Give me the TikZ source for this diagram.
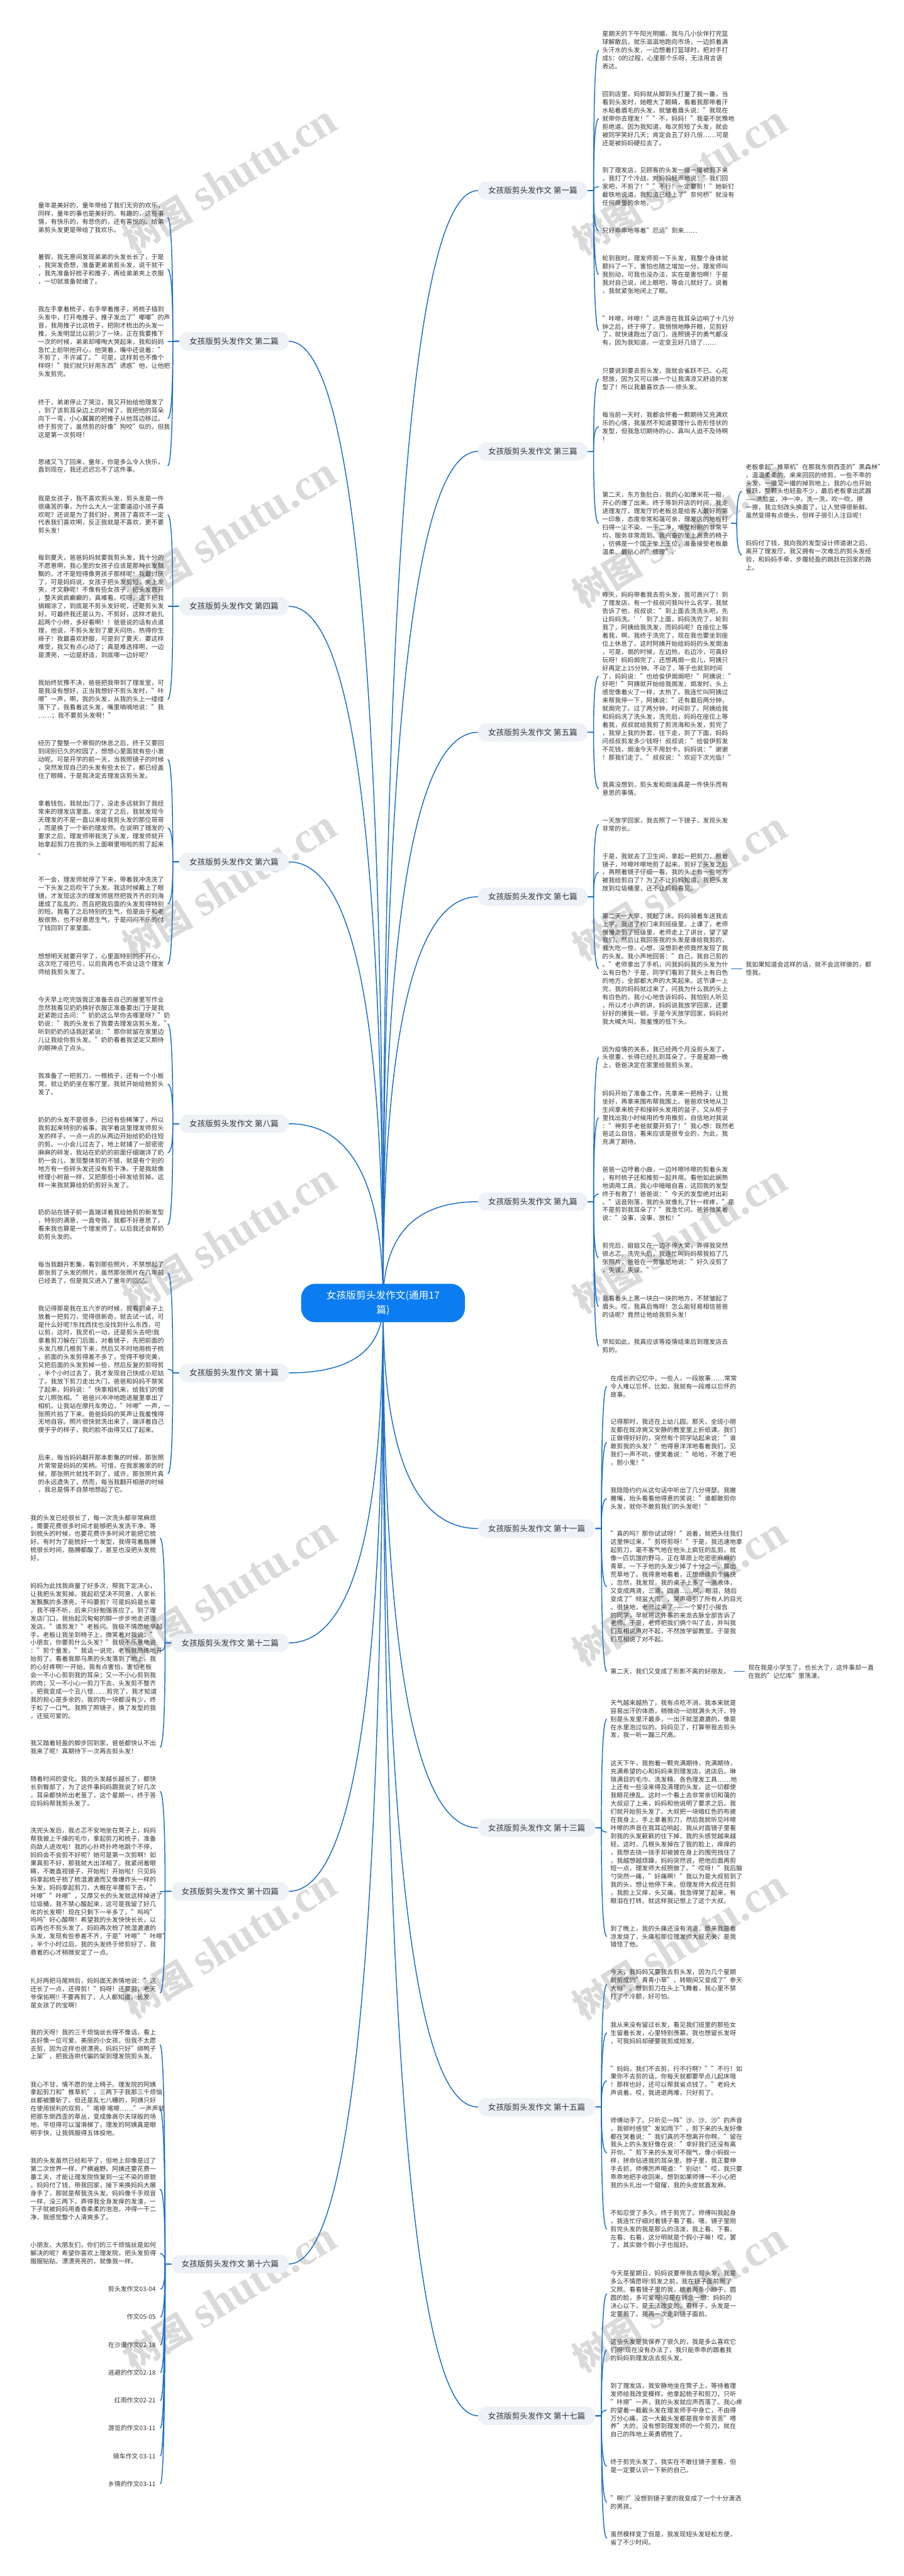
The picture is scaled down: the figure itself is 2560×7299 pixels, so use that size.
\documentclass[tikz,border=0pt]{standalone}
\usepackage{fontspec}
\setmainfont{Noto Sans CJK SC}
\newfontfamily\wmlatin{Liberation Serif}
\usetikzlibrary{calc}
\pgfdeclarelayer{bg}
\pgfsetlayers{bg,main}
\definecolor{linkblue}{HTML}{1A6FC7}
\definecolor{ctrblue}{HTML}{0B7DF0}
\definecolor{brfill}{HTML}{EEF1F6}
\definecolor{txt}{HTML}{333333}
\definecolor{wm}{HTML}{DADADA}
\newcommand\leaffont{\fontsize{17.8pt}{23pt}\selectfont}
\newcommand\brfont{\fontsize{22.5pt}{27pt}\selectfont}
\newcommand\ctrfont{\fontsize{28pt}{40pt}\selectfont}
\newcommand\wmtext{{\bfseries\fontsize{100pt}{100pt}\selectfont 树图}\hspace{30pt}{\wmlatin\bfseries\fontsize{125pt}{125pt}\selectfont shutu.cn}}
\tikzset{
 conn/.style={draw=linkblue, line width=2.6pt},
 leaf/.style={font=\leaffont, text=txt, align=left, inner sep=0pt, anchor=west},
 leafE/.style={font=\leaffont, text=txt, align=right, inner sep=0pt, anchor=east},
 branch/.style={fill=brfill, rounded corners=24pt, minimum height=52pt, font=\brfont, text=txt, inner sep=0pt},
 brA/.style={branch, minimum width=310pt},
 brB/.style={branch, minimum width=332pt},
 ctrnode/.style={fill=ctrblue, text=white, rounded corners=40pt, minimum width=464pt, minimum height=109pt, font=\ctrfont, align=center, inner sep=0pt},
 wmark/.style={text=wm, rotate=31.5, inner sep=0pt}
}
\newcommand{\mlinkR}[1]{\draw[conn] (ctr.center) let \p1=(ctr.center), \p2=(#1.west) in .. controls (\x1,{\y1+0.6667*(\y2-(\y1))}) and ({\x2+0.6667*(\x1-(\x2))},\y2) .. (\p2);}
\newcommand{\mlinkL}[1]{\draw[conn] (ctr.center) let \p1=(ctr.center), \p2=(#1.east) in .. controls (\x1,{\y1+0.6667*(\y2-(\y1))}) and ({\x2+0.6667*(\x1-(\x2))},\y2) .. (\p2);}
\newcommand{\rlink}[2]{\draw[conn] (#1.east) -- ([xshift=17pt]#1.east) let \p1=([xshift=17pt]#1.east), \p2=([xshift=-10pt]#2.west) in .. controls (\x1,{\y1+0.6667*(\y2-(\y1))}) and ({\x2+0.6667*(\x1-(\x2))},\y2) .. (\p2);}
\newcommand{\llink}[2]{\draw[conn] (#1.west) -- ([xshift=-18pt]#1.west) let \p1=([xshift=-18pt]#1.west), \p2=([xshift=367pt]#2.west) in .. controls (\x1,{\y1+0.6667*(\y2-(\y1))}) and ({\x2+0.6667*(\x1-(\x2))},\y2) .. (\p2);}
\newcommand{\llinkE}[2]{\draw[conn] (#1.west) -- ([xshift=-18pt]#1.west) let \p1=([xshift=-18pt]#1.west), \p2=([xshift=13pt]#2.east) in .. controls (\x1,{\y1+0.6667*(\y2-(\y1))}) and ({\x2+0.6667*(\x1-(\x2))},\y2) .. (\p2);}
\newcommand{\tlink}[2]{\draw[conn] ($(#2.west |- #1.west)+(-41,0)$) -- ($(#2.west |- #1.west)+(-25,0)$) let \p1=($(#2.west |- #1.west)+(-25,0)$), \p2=([xshift=-10pt]#2.west) in .. controls (\x1,{\y1+0.6667*(\y2-(\y1))}) and ({\x2+0.6667*(\x1-(\x2))},\y2) .. (\p2);}
\begin{document}
\begin{tikzpicture}[x=1pt,y=-1pt]
\begin{pgfonlayer}{bg}
\fill[white] (0,0) rectangle (2560,7299);
\end{pgfonlayer}
\useasboundingbox (0,0) rectangle (2560,7299);

% centre
\node[ctrnode] (ctr) at (1085,3692) {女孩版剪头发作文(通用17\\篇)};

% branch nodes
\node[brA, anchor=west] (b1) at (1354,540) {女孩版剪头发作文 第一篇};
\node[brA, anchor=east] (b2) at (818,967) {女孩版剪头发作文 第二篇};
\node[brA, anchor=west] (b3) at (1354,1279) {女孩版剪头发作文 第三篇};
\node[brA, anchor=east] (b4) at (818,1718) {女孩版剪头发作文 第四篇};
\node[brA, anchor=west] (b5) at (1354,2075) {女孩版剪头发作文 第五篇};
\node[brA, anchor=east] (b6) at (818,2442) {女孩版剪头发作文 第六篇};
\node[brA, anchor=west] (b7) at (1354,2541) {女孩版剪头发作文 第七篇};
\node[brA, anchor=east] (b8) at (818,3184) {女孩版剪头发作文 第八篇};
\node[brA, anchor=west] (b9) at (1354,3405) {女孩版剪头发作文 第九篇};
\node[brA, anchor=east] (b10) at (818,3890) {女孩版剪头发作文 第十篇};
\node[brB, anchor=west] (b11) at (1354,4331) {女孩版剪头发作文 第十一篇};
\node[brB, anchor=east] (b12) at (818,4655) {女孩版剪头发作文 第十二篇};
\node[brB, anchor=west] (b13) at (1354,5179) {女孩版剪头发作文 第十三篇};
\node[brB, anchor=east] (b14) at (818,5359) {女孩版剪头发作文 第十四篇};
\node[brB, anchor=west] (b15) at (1354,5970) {女孩版剪头发作文 第十五篇};
\node[brB, anchor=east] (b16) at (818,6415) {女孩版剪头发作文 第十六篇};
\node[brB, anchor=west] (b17) at (1354,6845) {女孩版剪头发作文 第十七篇};

% ---------- right leaves ----------
\node[leaf] (r1a) at (1706,142) {星期天的下午阳光明媚，我与几小伙伴打完篮\\球解散后，就乐滋滋地跑向市场，一边抓着满\\头汗水的头发，一边想着打篮球时，把对手打\\成5：0的过程，心里那个乐呀，无法用言语\\表达。};
\node[leaf] (r1b) at (1706,336) {回到店里，妈妈就从脚到头打量了我一番，当\\看到头发时，她瞪大了眼睛，看着我那带着汗\\水粘着眉毛的头发，就皱着眉头说："我现在\\就带你去理发！""不，妈妈！"我毫不犹豫地\\拒绝道。因为我知道，每次剪短了头发，就会\\被同学笑好几天；肯定会丑了好几倍……可是\\还是被妈妈硬拉去了。};
\node[leaf] (r1c) at (1706,529) {到了理发店，见顾客的头发一撮一撮被剪下来\\，我打了个冷战，对妈妈轻声地说："我们回\\家吧，不剪了！""不行！一定要剪！"她斩钉\\截铁地说道。我知道已经上了"奈何桥"就没有\\任何商量的余地，};
\node[leaf] (r1d) at (1706,654) {只好乖乖地等着"厄运"到来……};
\node[leaf] (r1e) at (1706,778) {轮到我时，理发师剪一下头发，我整个身体就\\颤抖了一下，害怕也随之增加一分。理发师叫\\我别动，可我也没办法，实在是害怕啊！于是\\我对自己说，闭上眼吧，等会儿就好了。说着\\，我就紧张地闭上了眼。};
\node[leaf] (r1f) at (1706,937) {"咔嚓，咔嚓！"这声音在我耳朵边响了十几分\\钟之后，终于停了，我悄悄地睁开眼，见剪好\\了，就快速跑出了店门，连照镜子的勇气都没\\有，因为我知道，一定变丑好几倍了……};

\node[leaf] (r3a) at (1706,1074) {只要说到要去剪头发，我就会雀跃不已、心花\\怒放，因为又可以换一个让我清凉又舒适的发\\型了！所以我最喜欢去——修头发。};
\node[leaf] (r3b) at (1706,1209) {每当前一天时，我都会怀着一颗期待又充满欢\\乐的心情，我虽然不知道要理什么奇形怪状的\\发型，但我急切期待的心，真叫人迫不及待啊\\！};
\node[leaf] (r3c) at (1706,1483) {第二天，东方鱼肚白，我的心如爆米花一般，\\开心的爆了出来。终于等到开店的时间，我走\\进理发厅，理发厅的老板总是给客人最好的第\\一印象，态度非常和蔼可亲，理发店的地板打\\扫得一尘不染、一干二净，墙壁粉刷的非常平\\均，服务非常周到。我兴奋的坐上高贵的椅子\\，彷佛是一个国王坐上王位，准备接受老板最\\温柔、最贴心的"修理"。};
\node[leaf] (r3c1) at (2112,1392) {老板拿起"推草机"在那我东倒西歪的"黑森林"\\，温温柔柔的、来来回回的修剪，一些不乖的\\头发，一撮又一撮的掉到地上，我的心也开始\\雀跃，整颗头也轻盈不少，最后老板拿出武器\\——洗脸盆，冲一冲，洗一洗，吹一吹，擦\\一擦，我立刻改头换面了，让人觉得很新鲜。\\虽然变得有点傻头，但样子很引人注目呢！};
\node[leaf] (r3c2) at (2112,1573) {妈妈付了钱，我向我的发型设计师道谢之后，\\离开了理发厅。我又拥有一次难忘的剪头发经\\验，和妈妈手牵，步履轻盈的跳跃在回家的路\\上。};

\node[leaf] (r5a) at (1706,1916) {昨天，妈妈带着我去剪头发，我可高兴了！到\\了理发店，有一个叔叔问我叫什么名字，我就\\告诉了他，叔叔说："到上面去洗洗头吧，先\\让妈妈洗。’’到了上面，妈妈洗完了，轮到\\我了，阿姨给我洗发，而妈妈呢？在座位上等\\着我，啊，我终于洗完了，现在我也要坐到座\\位上休息了，这时阿姨开始给妈妈的头发焗油\\，可是，焗的时候，左边热，右边冷，可真好\\玩呀！妈妈焗完了，还想再焗一会儿，阿姨只\\好再定上15分钟。不动了，等于也就到时间\\了，妈妈说："也给俊伊焗焗吧！"阿姨说："\\好吧！"阿姨就开始给我焗发，焗发时，头上\\感觉像着火了一样，太热了。我连忙叫阿姨过\\来帮我停一下，阿姨说："还有最后两分钟，\\就焗完了。过了两分钟，时间到了。阿姨给我\\和妈妈洗了洗头发，洗完后，妈妈在座位上等\\着我，叔叔就给我剪了剪流海和头发，剪完了\\，我穿上我的外套，往下走，到了下面，妈妈\\问叔叔剪发多少钱呀！叔叔说："给俊伊剪发\\不花钱，焗油今天不用划卡。妈妈说："谢谢\\！那我们走了。"叔叔说："欢迎下次光临！"};
\node[leaf] (r5b) at (1706,2235) {我真没想到，剪头发和焗油真是一件快乐而有\\意思的事情。};

\node[leaf] (r7a) at (1706,2336) {一天放学回家，我去照了一下镜子，发现头发\\非常的长。};
\node[leaf] (r7b) at (1706,2472) {于是，我就去了卫生间，拿起一把剪刀，照着\\镜子，咔嚓咔嚓地剪了起来。剪好了头发之后\\，再照着镜子仔细一看，我的头上有一些地方\\被我给剪白了？为了不让妈妈知道，我把头发\\放到垃圾桶里，还不让妈妈看见。};
\node[leaf] (r7c) at (1706,2745) {第二天一大早，我起了床。妈妈骑着车送我去\\上学。我进了校门来到班级里。上课了，老师\\慢慢走到了班级里，老师走上了讲台，望了望\\我们，然后让我回答我的头发是谁给我剪的，\\我大吃一惊，心想，没想到老师竟然发现了我\\的头发。我小声地回答："自己，我自己剪的\\。"老师拿出了手机，问我妈妈我的头发为什\\么有白色？于是，同学们看到了我头上有白色\\的地方，全部都大声的大笑起来。这节课一上\\完，我的妈妈就过来了，问我为什么我的头上\\有白色的，我小心地告诉妈妈，我怕别人听见\\，所以才小声的讲，妈妈说我放学回家，还要\\好好的揍我一顿。于是今天放学回家，妈妈对\\我大喊大叫，我羞愧的低下头。};
\node[leaf] (r7c1) at (2112,2745) {我如果知道会这样的话，就不会这样做的，都\\怪我。};

\node[leaf] (r9a) at (1706,2996) {因为疫情的关系，我已经两个月没剪头发了，\\头很重，长得已经扎到耳朵了。于是星期一晚\\上，爸爸决定在家里给我剪头发。};
\node[leaf] (r9b) at (1706,3167) {妈妈开始了准备工作，先拿来一把椅子，让我\\坐好，再拿来围布帮我围上。爸爸欢快地从卫\\生间拿来梳子和接碎头发用的盆子，又从柜子\\里找出我小时候用的专用推剪，自信地对我说\\："神剪手老爸就要开剪了！"我心想：既然老\\爸这么自信，看来应该是很专业的，为此，我\\充满了期待。};
\node[leaf] (r9c) at (1706,3383) {爸爸一边哼着小曲，一边咔嚓咔嚓的剪着头发\\，有时梳子还和推剪一起并用。看他如此娴熟\\地调用工具，我心中暗暗自喜，这回我的发型\\终于有救了！爸爸说："今天的发型绝对出彩\\。"话音刚落，我的头就像扎了针一样疼，"是\\不是剪到我耳朵了？"我急忙问。爸爸微笑着\\说："没事，没事，放松！"};
\node[leaf] (r9d) at (1706,3564) {剪完后，姐姐又在一边不停大笑，弄得我突然\\很忐忑。洗完头后，我连忙叫妈妈帮我拍了几\\张照片，爸爸在一旁尴尬地说："好久没剪了\\，失误，失误。"};
\node[leaf] (r9e) at (1706,3702) {我看着头上黑一块白一块的地方，不禁皱起了\\眉头。哎，我真后悔呀！怎么能轻易相信爸爸\\的话呢？竟然让他给我剪头发！};
\node[leaf] (r9f) at (1706,3814) {早知如此，我真应该等疫情结束后到理发店去\\剪的。};

\node[leaf] (r11a) at (1729,3928) {在成长的记忆中，一些人，一段故事……常常\\令人难以忘怀。比如，我就有一段难以忘怀的\\故事。};
\node[leaf] (r11b) at (1729,4087) {记得那时，我还在上幼儿园。那天，全班小朋\\友都在既凉爽又安静的教室里上折纸课。我们\\正做得好好的，突然有个同学站起来说："谁\\敢剪我的头发？"他得意洋洋地看着我们，见\\我们一声不吭，便笑着说："哈哈，不敢了吧\\，胆小鬼！"};
\node[leaf] (r11c) at (1729,4246) {我隐隐约约从这句话中听出了几分得瑟。我撇\\撇嘴，抬头看看他得意的笑说："谁都敢剪你\\头发，就你不敢剪我们的头发呢！"};
\node[leaf] (r11d) at (1729,4496) {"真的吗？那你试试呀！"说着，就把头往我们\\这里伸过来，"剪呀剪呀！"于是，我迅速地拿\\起剪刀，毫不客气地在他头上疯狂的乱剪，就\\像一匹饥饿的野马，正在草原上吃密密麻麻的\\青草。一下子他的头发少掉了十分之一，露出\\荒草地了。我得意地看着，正想继续剪个痛快\\。忽然，我发现，我的桌子上多了一滴液体，\\又变成两滴，三滴，四滴……啊，眼泪，随后\\变成了"倾盆大雨"，哭声吸引了所有人的目光\\。很快地，老师过来了——一个爱打小报告\\的同学，早就将这件事的来龙去脉全部告诉了\\老师。于是，老师把我们俩个叫了去，并叫我\\们互相说声对不起，不然放学留教室。于是我\\们互相说了对不起。};
\node[leaf] (r11e) at (1729,4736) {第二天，我们又变成了形影不离的好朋友。};
\node[leaf] (r11e1) at (2119,4736) {现在我是小学生了，也长大了，这件事却一直\\在我的"记忆库"里荡漾。};

\node[leaf] (r13a) at (1729,4871) {天气越来越热了，我有点吃不消，我本来就是\\容易出汗的体质，稍微动一动就满头大汗，特\\别是头发里汗最多，一出汗就湿漉漉的，像是\\在水里泡过似的。妈妈见了，打算带我去剪头\\发，我一听一蹦三尺高。};
\node[leaf] (r13b) at (1729,5191) {这天下午，我抱着一颗充满期待，充满期待，\\充满希望的心和妈妈来到理发店，进店后，琳\\琅满目的毛巾、洗发精、各色理发工具……地\\上还有一些没来得及清理的头发，这一切都使\\我眼花缭乱。这时一个看上去非常亲切和蔼的\\大叔迎了上来，妈妈和他说明了要求之后，我\\们就开始剪头发了。大叔把一块暗红色的布披\\在我身上，手上拿着剪刀，然后我就听见咔嚓\\咔嚓的声音在我耳边响起，我从对面镜子里看\\到我的头发簌簌的往下掉，我的头感觉越来越\\轻。这时，几根头发掉在了我的脸上，痒痒的\\，我想去挠一挠手却被披在身上的围兜挡住了\\，我越想越烦躁，妈妈突然说，把他后面再剪\\短一点，理发师大叔照做了。"哎呀！"我后脑\\勺突然一痛，"好痛啊！"我以为是大叔剪到了\\我的头，想让他停下来，但理发师大叔还在剪\\，我脸上又痒，头又痛，我急得哭了起来，有\\眼泪在打转。就这样我记恨上了这个大叔。};
\node[leaf] (r13c) at (1729,5487) {到了晚上，我的头痛还没有消退，原来我是着\\凉发烧了，头痛和那位理发师大叔无关，是我\\错怪了他。};

\node[leaf] (r15a) at (1729,5623) {今天，我妈妈又要我去剪头发，因为几个星期\\前剪成的"青青小草"，转眼间又变成了"参天\\大树"。想到剪刀在头上飞舞着，我心里不禁\\打了个冷颤，好可怕。};
\node[leaf] (r15b) at (1729,5760) {我从来没有留过长发，看见我们班里的那些女\\生留着长发，心里特别羡慕。我也想留长发呀\\，可我妈妈却硬要我剪成短发。};
\node[leaf] (r15c) at (1729,5896) {"妈妈，我们不去剪，行不行啊？""不行！如\\果你不去剪的话，你每天就都要早点儿起床哦\\！那样也好，还可以帮我省点钱了。"老妈大\\声说着。哎，我进退两难，只好剪了。};
\node[leaf] (r15d) at (1729,6100) {师傅动手了。只听见一阵"沙、沙、沙"的声音\\，我顿时感觉"发如雨下"。剪下来的头发好像\\都在哭着说："我们真的不想离开你啊。"留在\\我头上的头发好像在说："幸好我们还没有离\\开你。"剪下来的头发可不服气，像小蚂蚁一\\样，拼命钻进我的耳朵里、脖子里，我正要伸\\手去抓，师傅厉声喝道："别动！"哎，我只要\\乖乖地把手收回来。想到如果师傅一不小心把\\我的头扎出一个窟窿，我的头皮就直发麻。};
\node[leaf] (r15e) at (1729,6316) {不知忍受了多久，终于剪完了。师傅叫我起身\\，我连忙仔细对着镜子看了看。嘿，镜子里刚\\剪完头发的我是那么的活泼，我上看、下看、\\左看、右看，这分明就是个假小子嘛！哎，罢\\了，其实做个假小子也挺好。};

\node[leaf] (r17a) at (1729,6499) {今天是星期日，妈妈说要带我去剪头发，我是\\多么不情愿呀!剪发之前，我在镜子面前照了\\又照。看看镜子里的我，梳着两条小辫子，圆\\圆的脸，多可爱呀!可是在转念一想：妈妈的\\决心以下，是无法改变的。看样子，头发是一\\定要剪了。我再一次走到镜子面前。};
\node[leaf] (r17b) at (1729,6659) {这些头发是我保养了很久的，我是多么喜欢它\\们呀!现在没有办法了，我只能乖乖的跟着我\\的妈妈到理发店去剪头发。};
\node[leaf] (r17c) at (1729,6829) {到了理发店，我安静地坐在凳子上，等待着理\\发师给我改变模样。他拿起梳子和剪刀，只听\\"咔擦"一声，我的头发就应声而落了。我心疼\\的望着一截截头发在理发师手中身亡，不由得\\万分心痛，这一大截头发都是我辛辛苦苦"喂\\养"大的，没有想到理发师的一个剪刀，就在\\自己的阵地上英勇牺牲了。};
\node[leaf] (r17d) at (1729,6988) {终于剪完头发了，我实在不敢往镜子里看，但\\是一定要认识一下新的自己。};
\node[leaf] (r17e) at (1729,7090) {"啊!?"没想到镜子里的我变成了一个十分潇洒\\的男孩。};
\node[leaf] (r17f) at (1729,7192) {虽然模样变了但是，我发现短头发轻松方便，\\省了不少时间。};

% ---------- left leaves ----------
\node[leaf] (l2a) at (108,617) {童年是美好的，童年带给了我们无穷的欢乐，\\同样，童年的事也是美好的、有趣的，这些事\\情，有快乐的，有悲伤的，还有喜悦的。给弟\\弟剪头发更是带给了我欢乐。};
\node[leaf] (l2b) at (108,763) {暑假，我无意间发现弟弟的头发长长了，于是\\，我突发奇想，准备更弟弟剪头发，说干就干\\，我先准备好梳子和推子，再给弟弟夹上衣服\\，一切就准备就绪了。};
\node[leaf] (l2c) at (108,968) {我左手拿着梳子，右手举着推子，将梳子插到\\头发中，打开电推子，推子发出了"嘟嘟"的声\\音，我用推子比这梳子，把刚才梳出的头发一\\推，头发明显比以前少了一块，正在我要推下\\一次的时候，弟弟却嚎啕大哭起来，我和妈妈\\急忙上前哄他开心，他哭着，嘴中还说着："\\不剪了，不许减了。"可是，这样剪也不像个\\样呀！"我们就只好用东西"诱惑"他，让他把\\头发剪完。};
\node[leaf] (l2d) at (108,1186) {终于，弟弟停止了哭泣，我又开始给他理发了\\，到了该剪耳朵边上的时候了，我把他的耳朵\\向下一弯，小心翼翼的把推子从他耳边移过。\\终于剪完了，虽然剪的好像"狗咬"似的，但我\\这是第一次剪呀！};
\node[leaf] (l2e) at (108,1320) {思绪又飞了回来，童年，你是多么令人快乐，\\直到现在，我还迟迟忘不了这件事。};

\node[leaf] (l4a) at (108,1458) {我是女孩子，我不喜欢剪头发，剪头发是一件\\很痛苦的事，为什么大人一定要逼迫小孩子喜\\欢呢？还说是为了我们好，男孩了喜欢不一定\\代表我们喜欢啊，反正我就是不喜欢，更不要\\剪头发！};
\node[leaf] (l4b) at (108,1718) {每到夏天，爸爸妈妈就要我剪头发，我十分的\\不愿意啊，我心里的女孩子应该是那种长发飘\\飘的，才不是短得像男孩子那样呢！我最讨厌\\了，可是妈妈说，女孩子把头发剪短，夹上发\\夹，才文静呢！不像有些女孩子，把头发散开\\，整天疯疯癫癫的，真难看。哎呀，这下把我\\搞糊涂了，到底是不剪头发好呢，还是剪头发\\好。可最终我还是认为，不剪好，这样才能扎\\起两个小辫，多好看啊！！爸爸说的话有点道\\理，他说，不剪头发到了夏天闷热，热得你生\\痱子！我最喜欢舒服，可是到了夏天，要这样\\难受，我又有点心动了；真是难选择啊，一边\\是漂亮，一边是舒适，到底哪一边好呢？};
\node[leaf] (l4c) at (108,1982) {我始终犹豫不决，爸爸把我带到了理发室，可\\是我没有想好，正当我想好不剪头发时，"咔\\嚓"一声，啊，我的头发，从我的头上一缕缕\\落下了，我看着这头发，嘴里喃喃地说："我\\……；我不要剪头发啊！"};

\node[leaf] (l6a) at (108,2152) {经历了整整一个寒假的休息之后，终于又要回\\到阔别已久的校园了，想想心里面就有些小激\\动呢。可是开学的前一天，当我照镜子的时候\\，突然发现自己的头发有些太长了，都已经盖\\住了眼睛，于是我决定去理发店剪头发。};
\node[leaf] (l6b) at (108,2346) {拿着钱包，我就出门了，没走多远就到了我经\\常来的理发店里面。坐定了之后，我就发现今\\天理发的不是一直以来给我剪头发的那位哥哥\\，而是换了一个新的理发师。在说明了理发的\\要求之后，理发师带我洗了头发，理发师就开\\始拿起剪刀在我的头上面噼里啪啦的剪了起来\\。};
\node[leaf] (l6c) at (108,2561) {不一会，理发师就停了下来，带着我冲洗洗了\\一下头发之后吹干了头发。我这时候戴上了眼\\镜，才发现这次的理发师居然把我齐齐的刘海\\建成了乱乱的，而且把我后面的头发剪得特别\\的短。我看了之后特别的生气，但是由于和老\\板很熟，也不好意思生气，于是闷闷不乐的付\\了钱回到了家里面。};
\node[leaf] (l6d) at (108,2732) {想想明天就要开学了，心里面特别的不开心，\\这次吃了哑巴亏，以后我再也不会让这个理发\\师给我剪头发了。};

\node[leaf] (l8a) at (108,2901) {今天早上吃完饭我正准备去自己的屋里写作业\\忽然我看见奶奶换好衣服正准备要出门于是我\\赶紧跑过去问："奶奶这么早你去哪里呀？"奶\\奶说："我的头发长了我要去理发店剪头发。"\\听到奶奶的话我赶紧说："那你就留在家里边\\儿让我给你剪头发。"奶奶看着我坚定又期待\\的眼神点了点头。};
\node[leaf] (l8b) at (108,3072) {我准备了一把剪刀，一根梳子，还有一个小板\\凳，就让奶奶坐在客厅里，我就开始给她剪头\\发了。};
\node[leaf] (l8c) at (108,3266) {奶奶的头发不是很多，已经有些稀薄了，所以\\我剪起来特别的省事。我学着店里理发师剪头\\发的样子。一点一点的从两边开始给奶奶往短\\的剪。一小会儿过去了，地上就铺了一层密密\\麻麻的碎发，我站在奶奶的前面仔细端详了奶\\奶一会儿，发现整体剪的不错，就是有个别的\\地方有一些碎头发还没有剪干净。于是我就像\\修理小树苗一样，又把那些小碎发给剪掉。这\\样一来我就算给奶奶剪好头发了。};
\node[leaf] (l8d) at (108,3470) {奶奶站在镜子前一直端详着我给她剪的新发型\\，特别的满意，一直夸我，我都不好意思了。\\看来我也算是一个理发师了，以后我还会帮奶\\奶剪头发的。};

\node[leaf] (l10a) at (108,3607) {每当我翻开影集，看到那些照片，不禁想起了\\那张剪了头发的照片，虽然那张照片在几年前\\已经丢了，但是我又进入了童年的回忆。};
\node[leaf] (l10b) at (108,3880) {我记得那是我在五六岁的时候，我看到桌子上\\放着一把剪刀，觉得很新奇，就去试一试，可\\是什么好呢?东找西找也没找到什么东西，可\\以剪，这时，我灵机一动，还是剪头去吧!我\\拿着剪刀躲在门后面，对着镜子，先把前面的\\头发几根几根剪下来，然后又不时地用梳子梳\\。前面的头发剪得差不多了，觉得不够完美，\\又把后面的头发剪掉一些，然后反复的剪呀剪\\，半个小时过去了，我才发现自己快成小尼姑\\了。我放下剪刀走出大门，爸爸和妈妈不禁笑\\了起来，妈妈说："快拿相机来，给我们的傻\\女儿照张相。"爸爸兴冲冲地跑进屋里拿出了\\相机，让我站在摩托车旁边，"咔嚓"一声，一\\张照片拍了下来。爸爸妈妈的笑声让我羞愧得\\无地自容。照片很快就洗出来了，端详着自己\\傻乎乎的样子，我的脸不由得又红了起来。};
\node[leaf] (l10c) at (108,4176) {后来，每当妈妈翻开那本影集的时候，那张照\\片常常是妈妈的笑柄。可惜，在我家搬家的时\\候，那张照片就找不到了，或许，那张照片真\\的永远遗失了，然而，每当我翻开相册的时候\\，我总是情不自禁地想起了它。};

\node[leaf] (l12a) at (86,4358) {我的头发已经很长了，每一次洗头都非常麻烦\\，需要花费很多时间才能够把头发洗干净。等\\到梳头的时候，也要花费许多时间才能把它梳\\好。有时为了能梳好一个发型，我得弯着胳膊\\梳很长时间，胳膊都酸了，甚至也没把头发梳\\好。};
\node[leaf] (l12b) at (86,4678) {妈妈为此找我商量了好多次，帮我下定决心，\\让我把头发剪掉。我起初坚决不同意，人家长\\发飘飘的多漂亮，干吗要剪？可是妈妈是长辈\\，我不得不听，后来只好勉强答应了。到了理\\发店门口，我抬起沉甸甸的脚一步步地走进理\\发店。"谁剪发？"老板问。我极不情愿地举起\\手。老板让我坐到椅子上，微笑着对我说："\\小朋友，你要剪什么头发？"我极不乐意地说\\："剪个童发。"我话一说完，老板就熟练地开\\始剪了。看着我那乌黑的头发落到了地上，我\\的心好疼啊!一开始，我有点害怕，害怕老板\\会一不小心剪到我的耳朵；又一不小心剪到我\\的肉；又一不小心一剪刀下去，头发剪不整齐\\，把我变成一个丑八怪……剪完了，我才知道\\我的担心是多余的，我的肉一块都没有少，终\\于松了一口气。我照了照镜子，换了发型的我\\，还挺可爱的。};
\node[leaf] (l12c) at (86,4951) {我又踏着轻盈的脚步回到家，爸爸都快认不出\\我来了呢！真期待下一次再去剪头发！};

\node[leaf] (l14a) at (86,5076) {随着时间的变化，我的头发越长越长了，都快\\长到臀部了，为了这件事妈妈跟我说了好几次\\，耳朵都快听出老茧了，这个星期一，终于答\\应妈妈帮我剪头发了。};
\node[leaf] (l14b) at (86,5360) {洗完头发后，我忐忑不安地坐在凳子上，妈妈\\帮我披上干燥的毛巾，拿起剪刀和梳子，准备\\向敌人进攻啦！我的心扑咚扑咚地跳个不停，\\妈妈会不会剪不好呢？她可是第一次剪啊！如\\果真剪不好，那我就大出洋相了。我紧闭着眼\\睛，不敢直视镜子，开始啦！开始啦！只见妈\\妈拿起梳子梳了梳湿漉漉而又像爆炸头一样的\\头发，妈妈拿起剪刀，大概在半腰剪下去，"\\咔嚓""咔嚓"，又厚又长的头发就这样掉进了\\垃圾桶，我不禁心酸起来，这可是我留了好几\\年的长发啊！现在只剩下一半多了，"呜呜"\\呜呜"好心酸啊！希望我的头发快快长长，以\\后再也不剪头发了。妈妈再次梳了梳湿漉漉的\\头发，发现有些参差不齐，于是"咔嚓""咔嚓"\\，半个小时过后，我的头发终于修剪好了，我\\悬着的心才稍微安定了一点。};
\node[leaf] (l14c) at (86,5647) {扎好两把马尾辫后，妈妈面无表情地说："这\\还长了一点，还得剪！"妈呀！还要剪，老天\\爷保佑啊!! 不要再剪了，人人都知道，长发\\是女孩了的宝啊！};

\node[leaf] (l16a) at (86,5793) {我的天呀！我的三千烦恼丝长得不像话，看上\\去好像一位可爱、美丽的小女孩。但我不太愿\\去剪，因为这样也很漂亮。妈妈只好"绑鸭子\\上架"，把我连哄代骗的架到理发院剪头发。};
\node[leaf] (l16b) at (86,5975) {我心不甘，情不愿的坐上椅子。理发院的阿姨\\拿起剪刀和"推草机"，三两下子我那三千烦恼\\丝都被腰斩了。但还是乱七八糟的，阿姨只好\\在使用锐利的双剪，"喀嚓 喀嚓……"一声声就\\把那东倒西歪的草丛，变成像高尔夫球般的场\\地，平坦得可以溜滑梯了。理发的阿姨真是眼\\明手快，让我佩服得五体投地。};
\node[leaf] (l16c) at (86,6203) {我的头发虽然已经和平了，但地上却像是过了\\第二次世界一样，尸横遍野。阿姨还要花费一\\番工夫，才能让理发院恢复到一尘不染的原貌\\。妈妈付了钱，带我回家，接下来换妈妈大展\\身手了，那就是帮我洗头发。妈妈像千手观音\\一样，没三两下，弄得我全身发痒的发渣，一\\下子就被妈妈用香香柔柔的泡泡，冲得一干二\\净，我感觉整个人清爽多了。};
\node[leaf] (l16d) at (86,6385) {小朋友、大朋友们，你们的三千烦恼丝是如何\\解决的呢？希望你喜欢上理发院，把头发剪得\\服服贴贴、漂漂亮亮的，就像我一样。};
\node[leafE] (l16e) at (441,6486) {剪头发作文03-04};
\node[leafE] (l16f) at (441,6565) {作文05-05};
\node[leafE] (l16g) at (441,6644) {在沙漠作文02-18};
\node[leafE] (l16h) at (441,6723) {逃避的作文02-18};
\node[leafE] (l16i) at (441,6802) {红雨作文02-21};
\node[leafE] (l16j) at (441,6880) {游览的作文03-11};
\node[leafE] (l16k) at (441,6959) {骑车作文 03-11};
\node[leafE] (l16l) at (441,7038) {乡情的作文03-11};

% ---------- background: watermark + connectors ----------
\begin{pgfonlayer}{bg}
\foreach \k in {0,...,6}{
 \node[wmark] (wmL\k) at (650,{509+1000*\k}) {\wmtext};
 \node[wmark] (wmR\k) at (1925,{512+1000*\k}) {\wmtext};
}
\foreach \b in {b1,b3,b5,b7,b9,b11,b13,b15,b17}{\mlinkR{\b}}
\foreach \b in {b2,b4,b6,b8,b10,b12,b14,b16}{\mlinkL{\b}}

\foreach \c in {r1a,r1b,r1c,r1d,r1e,r1f}{\rlink{b1}{\c}}
\foreach \c in {r3a,r3b,r3c}{\rlink{b3}{\c}}
\foreach \c in {r5a,r5b}{\rlink{b5}{\c}}
\foreach \c in {r7a,r7b,r7c}{\rlink{b7}{\c}}
\foreach \c in {r9a,r9b,r9c,r9d,r9e,r9f}{\rlink{b9}{\c}}
\foreach \c in {r11a,r11b,r11c,r11d,r11e}{\rlink{b11}{\c}}
\foreach \c in {r13a,r13b,r13c}{\rlink{b13}{\c}}
\foreach \c in {r15a,r15b,r15c,r15d,r15e}{\rlink{b15}{\c}}
\foreach \c in {r17a,r17b,r17c,r17d,r17e,r17f}{\rlink{b17}{\c}}
\tlink{r3c}{r3c1}
\tlink{r3c}{r3c2}
\tlink{r7c}{r7c1}
\tlink{r11e}{r11e1}

\foreach \c in {l2a,l2b,l2c,l2d,l2e}{\llink{b2}{\c}}
\foreach \c in {l4a,l4b,l4c}{\llink{b4}{\c}}
\foreach \c in {l6a,l6b,l6c,l6d}{\llink{b6}{\c}}
\foreach \c in {l8a,l8b,l8c,l8d}{\llink{b8}{\c}}
\foreach \c in {l10a,l10b,l10c}{\llink{b10}{\c}}
\foreach \c in {l12a,l12b,l12c}{\llink{b12}{\c}}
\foreach \c in {l14a,l14b,l14c}{\llink{b14}{\c}}
\foreach \c in {l16a,l16b,l16c,l16d}{\llink{b16}{\c}}
\foreach \c in {l16e,l16f,l16g,l16h,l16i,l16j,l16k,l16l}{\llinkE{b16}{\c}}
\end{pgfonlayer}
\end{tikzpicture}
\end{document}
